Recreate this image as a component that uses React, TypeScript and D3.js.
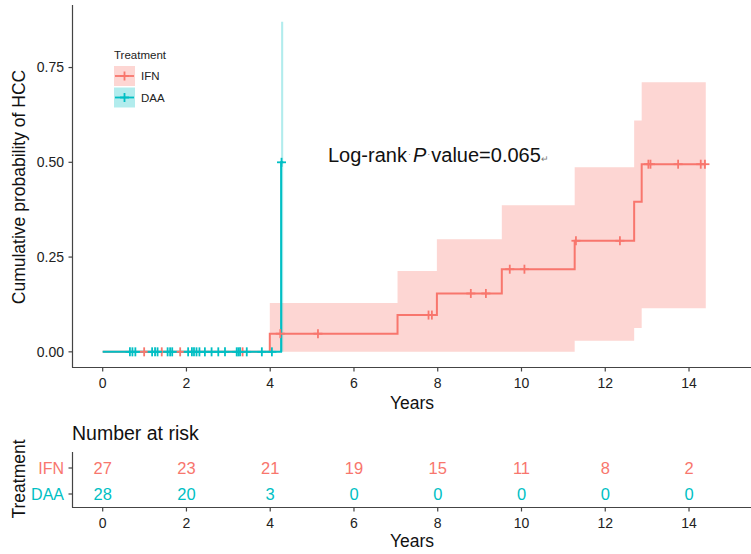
import React from "react";
import * as d3 from "d3";

// IFN step curve (cumulative incidence) and 95% CI
const ifnTimes = [0, 3.99, 7.04, 7.98, 9.53, 11.27, 12.69, 12.87, 14.4];
const ifnCum = [0, 0.048, 0.097, 0.154, 0.218, 0.293, 0.396, 0.495, 0.495];
const ifnUpper = [0, 0.129, 0.213, 0.297, 0.387, 0.487, 0.61, 0.711, 0.711];
const ifnLower = [0, 0, 0, 0, 0, 0.029, 0.063, 0.115, 0.115];
const ifnCensor = [0.99, 1.41, 1.85, 3.34, 4.24, 5.14, 7.78, 7.86, 8.79, 9.15, 9.72, 10.07, 11.3, 12.35, 13.03, 13.08, 13.74, 14.28, 14.38];

// DAA step curve and CI
const daaTimes = [0, 4.26, 4.31];
const daaCum = [0, 0.5, 0.5];
const daaUpper = [0, 0.871, 0.871];
const daaLower = [0, 0, 0];
const daaCensor = [0.65, 0.71, 0.78, 1.18, 1.25, 1.31, 1.55, 1.61, 1.66, 2.04, 2.13, 2.18, 2.24, 2.31, 2.44, 2.6, 2.76, 2.92, 3.2, 3.24, 3.28, 3.44, 3.8, 4.04, 4.27];

const xTicks = [0, 2, 4, 6, 8, 10, 12, 14];
const yTicks = [0, 0.25, 0.5, 0.75];
const riskTimes = [0, 2, 4, 6, 8, 10, 12, 14];
const ifnRisk = [27, 23, 21, 19, 15, 11, 8, 2];
const daaRisk = [28, 20, 3, 0, 0, 0, 0, 0];
const groups = ["IFN", "DAA"];

const RED = "#F8766D";
const TEAL = "#00BFC4";
const FONT = "'Liberation Sans', Arial, sans-serif";

function stepValue(times: number[], vals: number[], t: number) {
  const i = d3.bisectRight(times, t) - 1;
  return vals[Math.max(0, Math.min(i, vals.length - 1))];
}

export default function App() {
  const x = d3.scaleLinear().domain([-0.733, 15.48]).range([72, 751]);
  const y = d3.scaleLinear().domain([-0.04, 0.915]).range([367, 5]);
  const yRisk = d3.scalePoint<string>().domain(groups).range([468, 494]);

  const line = d3
    .line<[number, number]>()
    .x((d) => x(d[0]))
    .y((d) => y(d[1]))
    .curve(d3.curveStepAfter);
  const area = d3
    .area<[number, number, number]>()
    .x((d) => x(d[0]))
    .y0((d) => y(d[1]))
    .y1((d) => y(d[2]))
    .curve(d3.curveStepAfter);

  const series = [
    { name: "IFN", color: RED, times: ifnTimes, cum: ifnCum, lo: ifnLower, hi: ifnUpper, cens: ifnCensor },
    { name: "DAA", color: TEAL, times: daaTimes, cum: daaCum, lo: daaLower, hi: daaUpper, cens: daaCensor },
  ];

  const plus = (cx: number, cy: number, color: string, key: string, s = 4.5) => (
    <g key={key} stroke={color} strokeWidth={1.8}>
      <line x1={cx - s} x2={cx + s} y1={cy} y2={cy} />
      <line x1={cx} x2={cx} y1={cy - s} y2={cy + s} />
    </g>
  );

  return (
    <svg width={751} height={554} style={{ position: "absolute", left: 0, top: 0, background: "#fff" }} fontFamily={FONT}>
      <rect width={751} height={554} fill="#fff" />
      {/* ribbons */}
      {series.map((s) => (
        <path
          key={"rib" + s.name}
          d={area(s.times.map((t, i) => [t, s.lo[i], s.hi[i]] as [number, number, number])) || ""}
          fill={s.color}
          fillOpacity={0.3}
          stroke="none"
        />
      ))}
      {/* lines */}
      {series.map((s) => (
        <path
          key={"ln" + s.name}
          d={line(s.times.map((t, i) => [t, s.cum[i]] as [number, number])) || ""}
          fill="none"
          stroke={s.color}
          strokeWidth={2}
        />
      ))}
      {/* censor marks */}
      {series.map((s) =>
        s.cens.map((t, i) => plus(x(t), y(stepValue(s.times, s.cum, t)), s.color, s.name + "c" + i))
      )}

      {/* axes */}
      <line x1={72.5} x2={72.5} y1={5} y2={367.5} stroke="#444" strokeWidth={1.2} />
      <line x1={72} x2={751} y1={367.5} y2={367.5} stroke="#444" strokeWidth={1.2} />
      {yTicks.map((v) => (
        <g key={"yt" + v}>
          <line x1={68.5} x2={72.5} y1={y(v)} y2={y(v)} stroke="#444" strokeWidth={1.2} />
          <text x={64} y={y(v)} dy="0.35em" textAnchor="end" fontSize={14} fill="#222">
            {d3.format(".2f")(v)}
          </text>
        </g>
      ))}
      {xTicks.map((v) => (
        <g key={"xt" + v}>
          <line x1={x(v)} x2={x(v)} y1={367.5} y2={371.5} stroke="#444" strokeWidth={1.2} />
          <text x={x(v)} y={383} dy="0.35em" textAnchor="middle" fontSize={14} fill="#222">
            {v}
          </text>
        </g>
      ))}
      <text x={412} y={403} dy="0.35em" textAnchor="middle" fontSize={17.5} fill="#111">
        Years
      </text>
      <text transform={`translate(19,187) rotate(-90)`} dy="0.35em" textAnchor="middle" fontSize={17.5} fill="#111">
        Cumulative probability of HCC
      </text>

      {/* legend */}
      <text x={114} y={55} dy="0.35em" fontSize={11.5} fill="#222">Treatment</text>
      {series.map((s, i) => {
        const top = 66 + i * 21.5;
        const cy = top + 10;
        return (
          <g key={"lg" + s.name}>
            <rect x={114} y={top} width={21} height={20} fill={s.color} fillOpacity={0.3} />
            <line x1={115} x2={134} y1={cy} y2={cy} stroke={s.color} strokeWidth={1.8} />
            {plus(124.5, cy, s.color, "lgp" + s.name, 4.5)}
            <text x={141} y={cy} dy="0.35em" fontSize={11.5} fill="#222">{s.name}</text>
          </g>
        );
      })}

      {/* log-rank annotation */}
      <text x={328} y={162} fontSize={20} fill="#111" fontFamily="'Liberation Sans', 'Open Sans', sans-serif">
        Log-rank
        <tspan fontSize={9} fill="#777" dx={1} dy={-5}>·</tspan>
        <tspan fontStyle="italic" dx={2} dy={5}>P</tspan>
        <tspan fontSize={9} fill="#777" dx={1} dy={-5}>·</tspan>
        <tspan dx={1} dy={5}>value=0.065</tspan>
        <tspan fontSize={9} fill="#777">↵</tspan>
      </text>

      {/* risk table */}
      <text x={72} y={433} dy="0.35em" fontSize={19.5} fill="#111">Number at risk</text>
      <line x1={72.5} x2={72.5} y1={452} y2={507.5} stroke="#444" strokeWidth={1.2} />
      <line x1={72} x2={751} y1={507.5} y2={507.5} stroke="#444" strokeWidth={1.2} />
      {groups.map((g, gi) => (
        <g key={"rg" + g}>
          <line x1={68.5} x2={72.5} y1={yRisk(g)!} y2={yRisk(g)!} stroke="#444" strokeWidth={1.2} />
          <text x={64} y={yRisk(g)!} dy="0.35em" textAnchor="end" fontSize={16} fill={gi === 0 ? RED : TEAL}>
            {g}
          </text>
        </g>
      ))}
      {riskTimes.map((t, i) => (
        <g key={"rv" + t}>
          <text x={x(t)} y={yRisk("IFN")!} dy="0.35em" textAnchor="middle" fontSize={16.5} fill={RED}>
            {ifnRisk[i]}
          </text>
          <text x={x(t)} y={yRisk("DAA")!} dy="0.35em" textAnchor="middle" fontSize={16.5} fill={TEAL}>
            {daaRisk[i]}
          </text>
          <line x1={x(t)} x2={x(t)} y1={507.5} y2={511.5} stroke="#444" strokeWidth={1.2} />
          <text x={x(t)} y={523} dy="0.35em" textAnchor="middle" fontSize={14} fill="#222">
            {t}
          </text>
        </g>
      ))}
      <text x={412} y={541} dy="0.35em" textAnchor="middle" fontSize={17.5} fill="#111">
        Years
      </text>
      <text transform={`translate(19,479) rotate(-90)`} dy="0.35em" textAnchor="middle" fontSize={17.5} fill="#111">
        Treatment
      </text>
    </svg>
  );
}
